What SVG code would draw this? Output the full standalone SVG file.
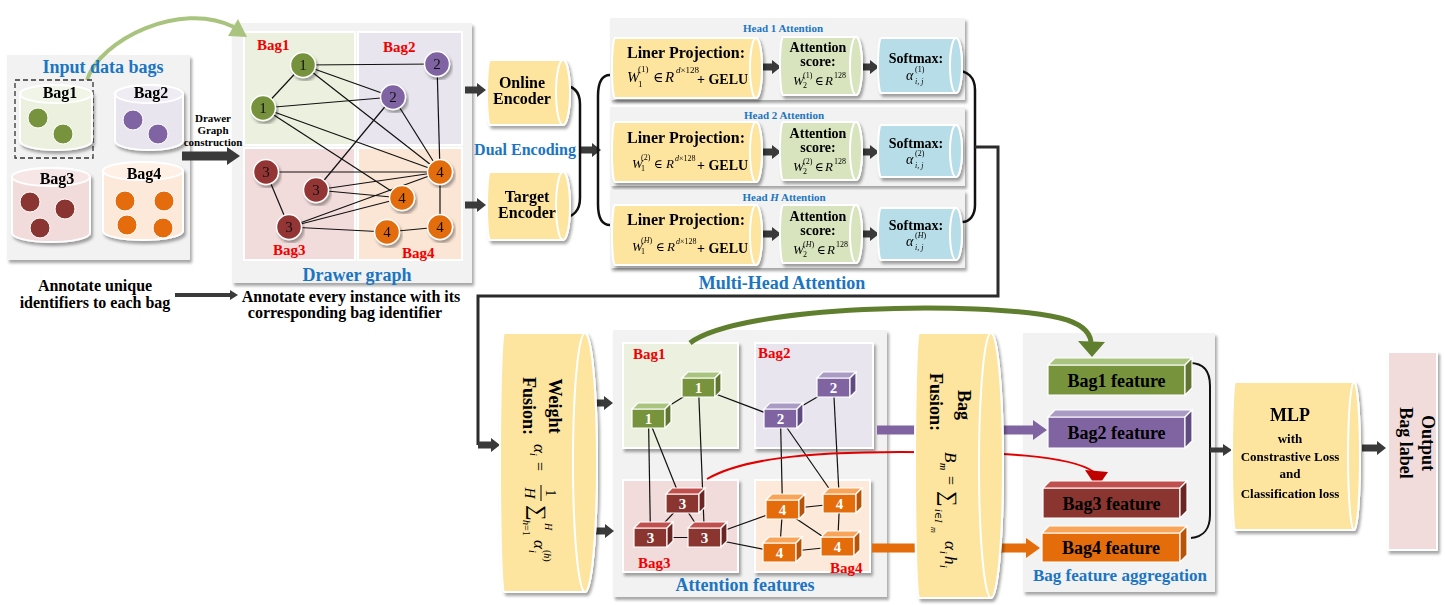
<svg xmlns="http://www.w3.org/2000/svg" width="1445" height="605" viewBox="0 0 1445 605">
<defs>
<filter id="sh" x="-8%" y="-8%" width="120%" height="120%"><feDropShadow dx="2" dy="3" stdDeviation="1.5" flood-color="#000" flood-opacity="0.35"/></filter>
</defs>
<style>
.b{font-family:"Liberation Serif","DejaVu Serif",serif;font-weight:bold}
.n{font-family:"Liberation Serif","DejaVu Serif",serif}
.i{font-family:"Liberation Serif","DejaVu Serif",serif;font-style:italic}
.blue{fill:#1b75c2}
.red{fill:#f00000}
.mid{text-anchor:middle}
.panel{fill:#f2f2f2;filter:url(#sh)}
.cy{stroke:#fff;stroke-width:2}
.sh{filter:url(#sh)}
.e{stroke:#111;stroke-width:1.2;fill:none}
.ar{fill:#3a3a3a}
.cu path{stroke:#fff;stroke-width:1.2}
.cu text{font-family:"Liberation Serif",serif;font-weight:bold;fill:#fff;font-size:15px;text-anchor:middle}
.nd circle{stroke:#fff;stroke-width:1.5}
.nd text{font-family:"Liberation Serif",serif;font-size:15px;fill:#111;text-anchor:middle}
.yel{fill:#fde59f}
.grn{fill:#d7e4bd}
.sky{fill:#b7dee8}
</style>

<!-- ===== Panels ===== -->
<g id="panel-input">
<rect class="panel" x="7" y="55" width="183" height="205"/>
</g>
<g id="panel-drawer">
<rect class="panel" x="232" y="23" width="240" height="260"/>
<rect x="244" y="32" width="111" height="113" fill="#ebf1de" stroke="#fff" stroke-width="2"/>
<rect x="358" y="32" width="104" height="113" fill="#e8e5ee" stroke="#fff" stroke-width="2"/>
<rect x="244" y="148" width="111" height="112" fill="#f2dcdb" stroke="#fff" stroke-width="2"/>
<rect x="358" y="148" width="104" height="112" fill="#fbe6d6" stroke="#fff" stroke-width="2"/>
<text class="b red" x="257" y="50" font-size="15">Bag1</text>
<text class="b red" x="383" y="52" font-size="15">Bag2</text>
<text class="b red" x="273" y="255" font-size="15">Bag3</text>
<text class="b red" x="402" y="258" font-size="15">Bag4</text>
<text class="b blue mid" x="357" y="281" font-size="18">Drawer graph</text>
</g>
<g id="panel-head1">
<rect class="panel" x="610" y="18" width="355" height="82"/>
<text class="b blue mid" x="783" y="32" font-size="11">Head 1 Attention</text>
</g>
<g id="panel-head2">
<rect class="panel" x="610" y="107" width="355" height="79"/>
<text class="b blue mid" x="784" y="119" font-size="11">Head 2 Attention</text>
</g>
<g id="panel-headH">
<rect class="panel" x="610" y="190" width="355" height="78"/>
<text class="b blue mid" x="784" y="201" font-size="11">Head <tspan font-style="italic">H</tspan> Attention</text>
</g>
<text class="b blue mid" x="782" y="289" font-size="18">Multi-Head Attention</text>
<g id="panel-attn">
<rect class="panel" x="613" y="330" width="274" height="267"/>
<rect class="sh" x="623" y="343" width="115" height="105" fill="#ebf1de" stroke="#fff" stroke-width="2"/>
<rect class="sh" x="755" y="343" width="118" height="105" fill="#e8e5ee" stroke="#fff" stroke-width="2"/>
<rect class="sh" x="623" y="480" width="115" height="92" fill="#f2dcdb" stroke="#fff" stroke-width="2"/>
<rect class="sh" x="755" y="480" width="115" height="92" fill="#fde9d9" stroke="#fff" stroke-width="2"/>
<text class="b red" x="633" y="359" font-size="15">Bag1</text>
<text class="b red" x="758" y="358" font-size="15">Bag2</text>
<text class="b red" x="638" y="568" font-size="15">Bag3</text>
<text class="b red" x="830" y="573" font-size="15">Bag4</text>
<text class="b blue mid" x="745" y="591" font-size="18">Attention features</text>
</g>
<g id="panel-agg">
<rect class="panel" x="1023" y="333" width="192" height="259"/>
<text class="b blue mid" x="1120" y="581" font-size="17">Bag feature aggregation</text>
</g>

<!-- ===== Connectors ===== -->
<g id="connectors">
<!-- top-left light green curve -->
<path d="M87,80 C100,40 180,0 234,27" fill="none" stroke="#a9c47f" stroke-width="4"/>
<polygon points="247,37 228,36 238,19" fill="#a9c47f"/>
<rect x="15" y="80" width="78" height="78" fill="none" stroke="#333" stroke-width="1.3" stroke-dasharray="5,3"/>
<!-- drawer graph edges -->
<g class="e">
<line x1="303" y1="65" x2="437" y2="64"/>
<line x1="303" y1="65" x2="263" y2="108"/>
<line x1="303" y1="65" x2="393" y2="97"/>
<line x1="303" y1="65" x2="440" y2="172"/>
<line x1="263" y1="108" x2="393" y2="97"/>
<line x1="263" y1="108" x2="440" y2="172"/>
<line x1="263" y1="108" x2="402" y2="198"/>
<line x1="437" y1="64" x2="440" y2="172"/>
<line x1="393" y1="97" x2="440" y2="172"/>
<line x1="393" y1="97" x2="316" y2="190"/>
<line x1="266" y1="172" x2="440" y2="172"/>
<line x1="266" y1="172" x2="289" y2="227"/>
<line x1="316" y1="190" x2="440" y2="172"/>
<line x1="316" y1="190" x2="402" y2="198"/>
<line x1="289" y1="227" x2="440" y2="172"/>
<line x1="289" y1="227" x2="402" y2="198"/>
<line x1="289" y1="227" x2="387" y2="232"/>
<line x1="387" y1="232" x2="440" y2="227"/>
<line x1="440" y1="172" x2="440" y2="227"/>
</g>
<!-- block arrows -->
<polygon class="ar" points="182,151.5 227,151.5 227,147 240,156 227,165 227,160.5 182,160.5"/>
<polygon class="ar" points="175,293 230,293 230,290 238,295 230,300 230,297 175,297"/>
<polygon class="ar" points="465,86.5 477,86.5 477,83 486,90 477,97 477,93.5 465,93.5"/>
<polygon class="ar" points="465,201.5 477,201.5 477,198 486,205 477,212 477,208.5 465,208.5"/>
<polygon class="ar" points="580,146.5 592,146.5 592,143 601,150 592,157 592,153.5 580,153.5"/>
<!-- encoder bracket and brace -->
<path d="M560,85 C574,85 580,92 580,104 V198 C580,210 574,218 560,218" fill="none" stroke="#111" stroke-width="2.5"/>
<path d="M610,75 C601,75 598,84 598,96 V204 C598,216 601,225 610,225" fill="none" stroke="#111" stroke-width="2.5"/>
<!-- head arrows -->
<polygon class="ar" points="762,63.5 772,63.5 772,60 781,67 772,74 772,70.5 762,70.5"/>
<polygon class="ar" points="860,63.5 870,63.5 870,60 879,67 870,74 870,70.5 860,70.5"/>
<polygon class="ar" points="762,148.5 772,148.5 772,145 781,152 772,159 772,155.5 762,155.5"/>
<polygon class="ar" points="860,148.5 870,148.5 870,145 879,152 870,159 870,155.5 860,155.5"/>
<polygon class="ar" points="762,230.5 772,230.5 772,227 781,234 772,241 772,237.5 762,237.5"/>
<polygon class="ar" points="860,230.5 870,230.5 870,227 879,234 870,241 870,237.5 860,237.5"/>
<!-- softmax bracket to weight fusion -->
<path d="M953,70 C968,70 975,78 975,90 V205 C975,215 970,222 962,222" fill="none" stroke="#111" stroke-width="2.5"/>
<path d="M975,147 H998 V296 H478 V445" fill="none" stroke="#2b2b2b" stroke-width="3"/>
<polygon class="ar" points="478,441.5 491,441.5 491,438 500,445 491,452 491,448.5 478,448.5"/>
<polygon class="ar" points="587,399.5 604,399.5 604,396 613,403 604,410 604,406.5 587,406.5"/>
<polygon class="ar" points="588,527.5 605,527.5 605,524 614,531 605,538 605,534.5 588,534.5"/>
<!-- attention feature edges -->
<g class="e">
<line x1="648.5" y1="418.5" x2="698.5" y2="387.5"/>
<line x1="698.5" y1="387.5" x2="780.5" y2="418.5"/>
<line x1="698.5" y1="387.5" x2="704.5" y2="537.5"/>
<line x1="648.5" y1="418.5" x2="650.5" y2="537.5"/>
<line x1="648.5" y1="418.5" x2="682.5" y2="503.5"/>
<line x1="780.5" y1="418.5" x2="833.5" y2="387.5"/>
<line x1="780.5" y1="418.5" x2="782.5" y2="509.5"/>
<line x1="780.5" y1="418.5" x2="839.5" y2="503.5"/>
<line x1="833.5" y1="387.5" x2="839.5" y2="503.5"/>
<line x1="650.5" y1="537.5" x2="682.5" y2="503.5"/>
<line x1="682.5" y1="503.5" x2="704.5" y2="537.5"/>
<line x1="650.5" y1="537.5" x2="704.5" y2="537.5"/>
<line x1="704.5" y1="537.5" x2="782.5" y2="509.5"/>
<line x1="704.5" y1="537.5" x2="779.5" y2="552.5"/>
<line x1="782.5" y1="509.5" x2="839.5" y2="503.5"/>
<line x1="782.5" y1="509.5" x2="779.5" y2="552.5"/>
<line x1="782.5" y1="509.5" x2="837.5" y2="546.5"/>
<line x1="839.5" y1="503.5" x2="837.5" y2="546.5"/>
<line x1="779.5" y1="552.5" x2="837.5" y2="546.5"/>
</g>
<!-- colored arrows to bag features -->
<polygon points="877,425.5 1033,425.5 1033,420 1047,430 1033,440 1033,434.5 877,434.5" fill="#8064a2"/>
<polygon points="872,543.5 1026,543.5 1026,538 1040,548 1026,558 1026,552.5 872,552.5" fill="#e46c0a"/>
<path d="M707,479 C740,460 800,452 900,452 C1000,452 1070,455 1094,472" fill="none" stroke="#e00000" stroke-width="2"/>
<polygon points="1085,470 1108,472 1097,488" fill="#c00000"/>
<path d="M690,343 C740,305 980,300 1060,318 C1080,323 1090,332 1091,342" fill="none" stroke="#5f7f2e" stroke-width="5"/>
<polygon points="1078,341 1105,342 1092,357" fill="#5f7f2e"/>
<!-- aggregation bracket -->
<path d="M1190,363 C1204,363 1210,372 1210,386 V515 C1210,528 1204,537 1191,538" fill="none" stroke="#111" stroke-width="2"/>
<polygon class="ar" points="1210,447.5 1223,447.5 1223,444 1232,450 1223,456 1223,452.5 1210,452.5"/>
<polygon class="ar" points="1362,444.5 1377,444.5 1377,441 1386,448 1377,455 1377,451.5 1362,451.5"/>
</g>

<g id="title-input">
<text class="b blue mid" x="103" y="73" font-size="18">Input data bags</text>
</g>

<!-- ===== Input bag cylinders ===== -->
<g id="bag1-input" class="sh">
<path class="cy" d="M20,94 V141 A36,9 0 0 0 92,141 V94 A36,9 0 0 0 20,94 Z" fill="#ebf1de"/>
<ellipse class="cy" cx="56" cy="94" rx="36" ry="9" fill="#f1f5e8"/>
<text class="b mid" x="60" y="98" font-size="16">Bag1</text>
<circle cx="38" cy="118" r="10" fill="#77933c" stroke="#fff"/>
<circle cx="63" cy="134" r="10" fill="#77933c" stroke="#fff"/>
</g>
<g id="bag2-input" class="sh">
<path class="cy" d="M115,94 V141 A34,9 0 0 0 183,141 V94 A34,9 0 0 0 115,94 Z" fill="#e8e5ee"/>
<ellipse class="cy" cx="149" cy="94" rx="34" ry="9" fill="#efedf3"/>
<text class="b mid" x="151" y="98" font-size="16">Bag2</text>
<circle cx="133" cy="120" r="10" fill="#8064a2" stroke="#fff"/>
<circle cx="158" cy="134" r="10" fill="#8064a2" stroke="#fff"/>
</g>
<g id="bag3-input" class="sh">
<path class="cy" d="M12,177 V233 A39,9 0 0 0 90,233 V177 A39,9 0 0 0 12,177 Z" fill="#f2dcdb"/>
<ellipse class="cy" cx="51" cy="177" rx="39" ry="9" fill="#f6e6e5"/>
<text class="b mid" x="57" y="184" font-size="16">Bag3</text>
<circle cx="30" cy="202" r="10" fill="#8b3530" stroke="#fff"/>
<circle cx="65" cy="209" r="10" fill="#8b3530" stroke="#fff"/>
<circle cx="40" cy="228" r="10" fill="#8b3530" stroke="#fff"/>
</g>
<g id="bag4-input" class="sh">
<path class="cy" d="M103,171 V231 A40,9 0 0 0 183,231 V171 A40,9 0 0 0 103,171 Z" fill="#fde9d9"/>
<ellipse class="cy" cx="143" cy="171" rx="40" ry="9" fill="#fef0e5"/>
<text class="b mid" x="144" y="179" font-size="16">Bag4</text>
<circle cx="125" cy="201" r="10" fill="#e46c0a" stroke="#fff"/>
<circle cx="164" cy="201" r="10" fill="#e46c0a" stroke="#fff"/>
<circle cx="127" cy="225" r="10" fill="#e46c0a" stroke="#fff"/>
<circle cx="163" cy="228" r="10" fill="#e46c0a" stroke="#fff"/>
</g>
<g id="label-construction">
<text class="b mid" x="213" y="122" font-size="11">Drawer</text>
<text class="b mid" x="213" y="134" font-size="11">Graph</text>
<text class="b mid" x="213" y="146" font-size="11">construction</text>
</g>
<g id="label-annotate1">
<text class="b mid" x="95" y="291" font-size="16">Annotate unique</text>
<text class="b mid" x="95" y="308" font-size="16">identifiers to each bag</text>
</g>
<g id="label-annotate2">
<text class="b mid" x="351" y="302" font-size="16">Annotate every instance with its</text>
<text class="b mid" x="345" y="318" font-size="16">corresponding bag identifier</text>
</g>

<!-- ===== Drawer graph nodes ===== -->
<g id="dg-1a" class="nd sh"><circle cx="303" cy="65" r="12.5" fill="#76923c"/><text x="303" y="70">1</text></g>
<g id="dg-1b" class="nd sh"><circle cx="263" cy="108" r="12.5" fill="#76923c"/><text x="263" y="113">1</text></g>
<g id="dg-2a" class="nd sh"><circle cx="437" cy="64" r="12.5" fill="#8064a2"/><text x="437" y="69">2</text></g>
<g id="dg-2b" class="nd sh"><circle cx="393" cy="97" r="12.5" fill="#8064a2"/><text x="393" y="102">2</text></g>
<g id="dg-3a" class="nd sh"><circle cx="266" cy="172" r="12.5" fill="#943634"/><text x="266" y="177">3</text></g>
<g id="dg-3b" class="nd sh"><circle cx="316" cy="190" r="12.5" fill="#943634"/><text x="316" y="195">3</text></g>
<g id="dg-3c" class="nd sh"><circle cx="289" cy="227" r="12.5" fill="#943634"/><text x="289" y="232">3</text></g>
<g id="dg-4a" class="nd sh"><circle cx="440" cy="172" r="12.5" fill="#e36c09"/><text x="440" y="177">4</text></g>
<g id="dg-4b" class="nd sh"><circle cx="402" cy="198" r="12.5" fill="#e36c09"/><text x="402" y="203">4</text></g>
<g id="dg-4c" class="nd sh"><circle cx="387" cy="232" r="12.5" fill="#e36c09"/><text x="387" y="237">4</text></g>
<g id="dg-4d" class="nd sh"><circle cx="440" cy="227" r="12.5" fill="#e36c09"/><text x="440" y="232">4</text></g>

<!-- ===== Encoders ===== -->
<g id="online-encoder" class="sh">
<path class="cy yel" d="M490,60 H563 A7,32.5 0 0 1 563,125 H490 A3,32.5 0 0 1 490,60 Z"/>
<ellipse class="cy yel" cx="563" cy="92.5" rx="7" ry="32.5"/>
<text class="b mid" x="522" y="88" font-size="16">Online</text>
<text class="b mid" x="522" y="104" font-size="16">Encoder</text>
</g>
<g id="target-encoder" class="sh">
<path class="cy yel" d="M490,172 H563 A7,34 0 0 1 563,240 H490 A3,34 0 0 1 490,172 Z"/>
<ellipse class="cy yel" cx="563" cy="206" rx="7" ry="34"/>
<text class="b mid" x="527" y="202" font-size="16">Target</text>
<text class="b mid" x="527" y="218" font-size="16">Encoder</text>
</g>
<text class="b blue mid" x="525" y="155" font-size="16">Dual Encoding</text>

<!-- ===== Head 1 ===== -->
<g id="h1-proj" class="sh">
<path class="cy yel" d="M615,38 H756 A6,30 0 0 1 756,98 H615 A3,30 0 0 1 615,38 Z"/>
<ellipse class="cy yel" cx="756" cy="68" rx="6" ry="30"/>
<text class="b mid" x="686" y="58" font-size="16">Liner Projection:</text>
<text class="i" x="627" y="82" font-size="15">W</text>
<text class="n" x="638" y="72" font-size="9">(1)</text>
<text class="n" x="638" y="87" font-size="9">1</text>
<text class="n" x="653" y="82" font-size="14">∈</text>
<text class="i" x="665" y="82" font-size="15">R</text>
<text class="n" x="676" y="73" font-size="9"><tspan font-style="italic">d</tspan>×128</text>
<text class="b" x="697" y="84" font-size="14">+ GELU</text>
</g>
<g id="h1-score" class="sh">
<path class="cy grn" d="M783,37 H856 A6,29 0 0 1 856,95 H783 A3,29 0 0 1 783,37 Z"/>
<ellipse class="cy grn" cx="856" cy="66" rx="6" ry="29"/>
<text class="b mid" x="818" y="52" font-size="14">Attention</text>
<text class="b mid" x="818" y="66" font-size="14">score:</text>
<text class="i" x="793" y="85" font-size="13">W</text>
<text class="n" x="803" y="78" font-size="8">(1)</text>
<text class="n" x="803" y="88" font-size="8">2</text>
<text class="n" x="815" y="85" font-size="12">∈</text>
<text class="i" x="825" y="85" font-size="13">R</text>
<text class="n" x="834" y="78" font-size="8">128</text>
</g>
<g id="h1-softmax" class="sh">
<path class="cy sky" d="M881,38 H956 A6,27.5 0 0 1 956,93 H881 A3,27.5 0 0 1 881,38 Z"/>
<ellipse class="cy sky" cx="956" cy="65.5" rx="6" ry="27.5"/>
<text class="b mid" x="916" y="63" font-size="14">Softmax:</text>
<text class="i" x="906" y="80" font-size="14">α</text>
<text class="n" x="915" y="72" font-size="8">(1)</text>
<text class="i" x="915" y="84" font-size="8">i, j</text>
</g>

<!-- ===== Head 2 ===== -->
<g id="h2-proj" class="sh">
<path class="cy yel" d="M615,122 H756 A6,30 0 0 1 756,182 H615 A3,30 0 0 1 615,122 Z"/>
<ellipse class="cy yel" cx="756" cy="152" rx="6" ry="30"/>
<text class="b mid" x="686" y="143" font-size="16">Liner Projection:</text>
<text class="i" x="632" y="168" font-size="13">W</text>
<text class="n" x="641" y="160" font-size="8">(2)</text>
<text class="n" x="641" y="171" font-size="8">1</text>
<text class="n" x="654" y="168" font-size="12">∈</text>
<text class="i" x="666" y="168" font-size="13">R</text>
<text class="n" x="675" y="161" font-size="8"><tspan font-style="italic">d</tspan>×128</text>
<text class="b" x="697" y="170" font-size="14">+ GELU</text>
</g>
<g id="h2-score" class="sh">
<path class="cy grn" d="M783,122 H856 A6,29 0 0 1 856,180 H783 A3,29 0 0 1 783,122 Z"/>
<ellipse class="cy grn" cx="856" cy="151" rx="6" ry="29"/>
<text class="b mid" x="818" y="138" font-size="14">Attention</text>
<text class="b mid" x="818" y="152" font-size="14">score:</text>
<text class="i" x="793" y="171" font-size="13">W</text>
<text class="n" x="803" y="164" font-size="8">(2)</text>
<text class="n" x="803" y="174" font-size="8">2</text>
<text class="n" x="815" y="171" font-size="12">∈</text>
<text class="i" x="825" y="171" font-size="13">R</text>
<text class="n" x="834" y="164" font-size="8">128</text>
</g>
<g id="h2-softmax" class="sh">
<path class="cy sky" d="M881,125 H956 A6,26 0 0 1 956,177 H881 A3,26 0 0 1 881,125 Z"/>
<ellipse class="cy sky" cx="956" cy="151" rx="6" ry="26"/>
<text class="b mid" x="916" y="148" font-size="14">Softmax:</text>
<text class="i" x="906" y="164" font-size="14">α</text>
<text class="n" x="915" y="156" font-size="8">(2)</text>
<text class="i" x="915" y="168" font-size="8">i, j</text>
</g>

<!-- ===== Head H ===== -->
<g id="hH-proj" class="sh">
<path class="cy yel" d="M615,205 H756 A6,30 0 0 1 756,265 H615 A3,30 0 0 1 615,205 Z"/>
<ellipse class="cy yel" cx="756" cy="235" rx="6" ry="30"/>
<text class="b mid" x="686" y="225" font-size="16">Liner Projection:</text>
<text class="i" x="632" y="251" font-size="13">W</text>
<text class="n" x="641" y="243" font-size="8">(<tspan font-style="italic">H</tspan>)</text>
<text class="n" x="641" y="254" font-size="8">1</text>
<text class="n" x="656" y="251" font-size="12">∈</text>
<text class="i" x="667" y="251" font-size="13">R</text>
<text class="n" x="676" y="244" font-size="8"><tspan font-style="italic">d</tspan>×128</text>
<text class="b" x="697" y="253" font-size="14">+ GELU</text>
</g>
<g id="hH-score" class="sh">
<path class="cy grn" d="M783,205 H856 A6,29 0 0 1 856,263 H783 A3,29 0 0 1 783,205 Z"/>
<ellipse class="cy grn" cx="856" cy="234" rx="6" ry="29"/>
<text class="b mid" x="818" y="221" font-size="14">Attention</text>
<text class="b mid" x="818" y="235" font-size="14">score:</text>
<text class="i" x="793" y="254" font-size="13">W</text>
<text class="n" x="803" y="247" font-size="8">(<tspan font-style="italic">H</tspan>)</text>
<text class="n" x="803" y="257" font-size="8">2</text>
<text class="n" x="817" y="254" font-size="12">∈</text>
<text class="i" x="827" y="254" font-size="13">R</text>
<text class="n" x="836" y="247" font-size="8">128</text>
</g>
<g id="hH-softmax" class="sh">
<path class="cy sky" d="M881,208 H956 A6,26 0 0 1 956,260 H881 A3,26 0 0 1 881,208 Z"/>
<ellipse class="cy sky" cx="956" cy="234" rx="6" ry="26"/>
<text class="b mid" x="916" y="230" font-size="14">Softmax:</text>
<text class="i" x="906" y="246" font-size="14">α</text>
<text class="n" x="915" y="238" font-size="8">(<tspan font-style="italic">H</tspan>)</text>
<text class="i" x="915" y="250" font-size="8">i, j</text>
</g>

<!-- ===== Weight Fusion ===== -->
<g id="weight-fusion">
<g class="sh">
<path class="cy yel" d="M504,333 H585 A12,129.5 0 0 1 585,592 H504 A4,129.5 0 0 1 504,333 Z"/>
<ellipse class="cy yel" cx="585" cy="462.5" rx="12" ry="129.5"/>
</g>
<g transform="translate(548,462) rotate(90)">
<text class="b mid" x="-56" y="-1" font-size="18">Weight</text>
<text class="b mid" x="-56" y="25" font-size="18">Fusion:</text>
<text class="i" x="-18" y="14" font-size="17">α</text>
<text class="i" x="-9" y="18" font-size="10">i</text>
<text class="n" x="0" y="14" font-size="16">=</text>
<text class="n mid" x="31" y="2" font-size="14">1</text>
<line x1="23" y1="7" x2="39" y2="7" stroke="#000" stroke-width="1"/>
<text class="i mid" x="31" y="23" font-size="15">H</text>
<text class="n" x="43" y="17" font-size="22">∑</text>
<text class="i" x="61" y="3" font-size="10">H</text>
<text class="n" x="58" y="25" font-size="10"><tspan font-style="italic">h</tspan>=1</text>
<text class="i" x="78" y="14" font-size="17">α</text>
<text class="i" x="88" y="19" font-size="10">i</text>
<text class="n" x="88" y="4" font-size="10">(<tspan font-style="italic">h</tspan>)</text>
</g>
</g>

<!-- ===== Attention feature cuboids ===== -->
<g id="af-1a" class="cu"><path d="M682,378h33v19h-33z" fill="#77933c"/><path d="M682,378l6,-6h33l-6,6z" fill="#a9c47f"/><path d="M715,378l6,-6v19l-6,6z" fill="#5f7530"/><text x="698.5" y="393">1</text></g>
<g id="af-1b" class="cu"><path d="M632,409h33v19h-33z" fill="#77933c"/><path d="M632,409l6,-6h33l-6,6z" fill="#a9c47f"/><path d="M665,409l6,-6v19l-6,6z" fill="#5f7530"/><text x="648.5" y="424">1</text></g>
<g id="af-2a" class="cu"><path d="M817,378h33v19h-33z" fill="#8064a2"/><path d="M817,378l6,-6h33l-6,6z" fill="#a99bc4"/><path d="M850,378l6,-6v19l-6,6z" fill="#5f4b80"/><text x="833.5" y="393">2</text></g>
<g id="af-2b" class="cu"><path d="M764,409h33v19h-33z" fill="#8064a2"/><path d="M764,409l6,-6h33l-6,6z" fill="#a99bc4"/><path d="M797,409l6,-6v19l-6,6z" fill="#5f4b80"/><text x="780.5" y="424">2</text></g>
<g id="af-3a" class="cu"><path d="M666,494h33v19h-33z" fill="#8b3530"/><path d="M666,494l6,-6h33l-6,6z" fill="#c0504d"/><path d="M699,494l6,-6v19l-6,6z" fill="#6b2624"/><text x="682.5" y="509">3</text></g>
<g id="af-3b" class="cu"><path d="M634,528h33v19h-33z" fill="#8b3530"/><path d="M634,528l6,-6h33l-6,6z" fill="#c0504d"/><path d="M667,528l6,-6v19l-6,6z" fill="#6b2624"/><text x="650.5" y="543">3</text></g>
<g id="af-3c" class="cu"><path d="M688,528h33v19h-33z" fill="#8b3530"/><path d="M688,528l6,-6h33l-6,6z" fill="#c0504d"/><path d="M721,528l6,-6v19l-6,6z" fill="#6b2624"/><text x="704.5" y="543">3</text></g>
<g id="af-4a" class="cu"><path d="M766,500h33v19h-33z" fill="#e46c0a"/><path d="M766,500l6,-6h33l-6,6z" fill="#f8a55a"/><path d="M799,500l6,-6v19l-6,6z" fill="#b85408"/><text x="782.5" y="515">4</text></g>
<g id="af-4b" class="cu"><path d="M823,494h33v19h-33z" fill="#e46c0a"/><path d="M823,494l6,-6h33l-6,6z" fill="#f8a55a"/><path d="M856,494l6,-6v19l-6,6z" fill="#b85408"/><text x="839.5" y="509">4</text></g>
<g id="af-4c" class="cu"><path d="M763,543h33v19h-33z" fill="#e46c0a"/><path d="M763,543l6,-6h33l-6,6z" fill="#f8a55a"/><path d="M796,543l6,-6v19l-6,6z" fill="#b85408"/><text x="779.5" y="558">4</text></g>
<g id="af-4d" class="cu"><path d="M821,537h33v19h-33z" fill="#e46c0a"/><path d="M821,537l6,-6h33l-6,6z" fill="#f8a55a"/><path d="M854,537l6,-6v19l-6,6z" fill="#b85408"/><text x="837.5" y="552">4</text></g>

<!-- ===== Bag Fusion ===== -->
<g id="bag-fusion">
<g class="sh">
<path class="cy yel" d="M919,333 H991 A12,132.5 0 0 1 991,598 H919 A4,132.5 0 0 1 919,333 Z"/>
<ellipse class="cy yel" cx="991" cy="465.5" rx="12" ry="132.5"/>
</g>
<g transform="translate(959,465) rotate(90)">
<text class="b mid" x="-60" y="1" font-size="18">Bag</text>
<text class="b mid" x="-63" y="29" font-size="18">Fusion:</text>
<text class="i" x="-13" y="14" font-size="17">B</text>
<text class="i" x="-2" y="19" font-size="10">m</text>
<text class="n" x="11" y="14" font-size="16">=</text>
<text class="n" x="26" y="17" font-size="22">∑</text>
<text class="i" x="44" y="24" font-size="10">i<tspan font-style="normal">∈</tspan>I</text>
<text class="i" x="62" y="28" font-size="8">m</text>
<text class="i" x="76" y="14" font-size="17">α</text>
<text class="i" x="86" y="19" font-size="10">i</text>
<text class="i" x="91" y="14" font-size="17">h</text>
<text class="i" x="100" y="19" font-size="10">i</text>
</g>
</g>

<!-- ===== Bag features ===== -->
<g id="bag1-feature" class="cu"><path d="M1048,365h137v30h-137z" fill="#77933c"/><path d="M1048,365l7,-7h137l-7,7z" fill="#a9c47f"/><path d="M1185,365l7,-7v30l-7,7z" fill="#5f7530"/><text x="1116.5" y="387" style="fill:#000;font-size:18px">Bag1 feature</text></g>
<g id="bag2-feature" class="cu"><path d="M1048,417h137v31h-137z" fill="#8064a2"/><path d="M1048,417l7,-7h137l-7,7z" fill="#a99bc4"/><path d="M1185,417l7,-7v31l-7,7z" fill="#5f4b80"/><text x="1116.5" y="439" style="fill:#000;font-size:18px">Bag2 feature</text></g>
<g id="bag3-feature" class="cu"><path d="M1043,488h137v30h-137z" fill="#8b3530"/><path d="M1043,488l7,-7h137l-7,7z" fill="#c0504d"/><path d="M1180,488l7,-7v30l-7,7z" fill="#6b2624"/><text x="1111.5" y="510" style="fill:#000;font-size:18px">Bag3 feature</text></g>
<g id="bag4-feature" class="cu"><path d="M1042,533h138v29h-138z" fill="#e46c0a"/><path d="M1042,533l7,-7h138l-7,7z" fill="#f8a55a"/><path d="M1180,533l7,-7v29l-7,7z" fill="#b85408"/><text x="1111" y="554" style="fill:#000;font-size:18px">Bag4 feature</text></g>

<!-- ===== MLP ===== -->
<g id="mlp" class="sh">
<path class="cy yel" d="M1235,382 H1354 A6,74 0 0 1 1354,530 H1235 A3,74 0 0 1 1235,382 Z"/>
<ellipse class="cy yel" cx="1354" cy="456" rx="6" ry="74"/>
<text class="b mid" x="1290" y="421" font-size="18">MLP</text>
<text class="b mid" x="1290" y="443" font-size="13">with</text>
<text class="b mid" x="1290" y="461" font-size="13">Constrastive Loss</text>
<text class="b mid" x="1290" y="478" font-size="13">and</text>
<text class="b mid" x="1290" y="498" font-size="13">Classification loss</text>
</g>

<!-- ===== Output ===== -->
<g id="output">
<rect class="sh" x="1388" y="352" width="49" height="198" fill="#f2dcdb" stroke="#fff" stroke-width="2"/>
<g transform="translate(1413,443) rotate(90)">
<text class="b mid" x="0" y="-9" font-size="18">Output</text>
<text class="b mid" x="0" y="13" font-size="18">Bag label</text>
</g>
</g>
</svg>
